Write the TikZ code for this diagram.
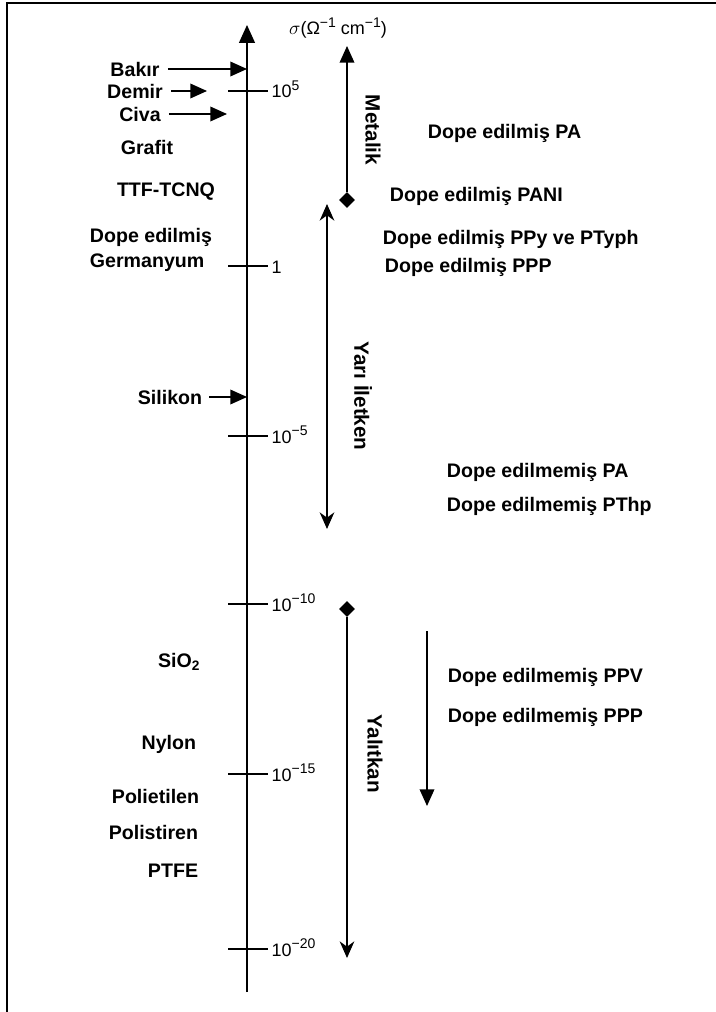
\documentclass[tikz,border=0pt]{standalone}
\usepackage{fontspec}
\setmainfont{Liberation Sans}
\usetikzlibrary{arrows.meta,shapes.geometric}

\newcommand{\expo}[1]{\raisebox{0.42em}{\fontsize{10.5}{11}\selectfont #1}}

\tikzset{
  etiq/.style={font=\fontsize{14.7}{18.75}\selectfont\bfseries, inner sep=2pt},
  bande/.style={font=\fontsize{15.5}{18}\selectfont\bfseries, rotate=-90, inner sep=1pt},
  valeur/.style={font=\fontsize{13.5}{15}\selectfont, inner sep=1pt},
  fleche/.style={line width=1pt, -{Triangle[length=12.5pt,width=11pt]}},
  pointe/.style={line width=1pt, -{Stealth[length=12.5pt,width=11pt,inset=4pt]}},
  double pointe/.style={line width=1pt, {Stealth[length=12.5pt,width=11pt,inset=4pt]}-{Stealth[length=12.5pt,width=11pt,inset=4pt]}},
  losange/.style={diamond, fill, inner sep=0pt, minimum size=12pt}
}

\begin{document}
\begin{tikzpicture}[x=0.75pt,y=-0.75pt]
\useasboundingbox (0,0) rectangle (716,1012);

 % cadre
  \draw[line width=1.5pt] (7,1012) -- (7,3) -- (716,3);

 % tracé de l'axe
  \coordinate (bas) at (247,992);
  \coordinate (haut) at (247,25);
  \draw[line width=1pt, -{Triangle[length=13.5pt,width=12pt]}] (bas) -- (haut);
  \node[valeur] (unite) at (338,28) {$\sigma$(Ω\expo{−1} cm\expo{−1})};

 % graduations
  \foreach \y/\lab in {91/10\expo{5}, 266/1, 436/10\expo{−5}, 604/10\expo{−10}, 774/10\expo{−15}, 949/10\expo{−20}}{
    \draw[line width=0.8pt] (228,\y) -- (268,\y);
    \node[valeur, anchor=base west] (g\y) at (270,\y+7) {\lab};
  }

 % matériaux à gauche
  \node[etiq] (bakir) at (135,69) {Bakır};
  \node[etiq] (demir) at (135,91) {Demir};
  \node[etiq] (civa) at (140,114) {Civa};
  \node[etiq] (grafit) at (147,147) {Grafit};
  \node[etiq] (ttf) at (166,192) {TTF-TCNQ};
  \node[etiq, align=left, anchor=west] (germ) at (87,250) {Dope edilmiş\\Germanyum};
  \node[etiq] (silikon) at (170,397) {Silikon};
  \node[etiq, anchor=east] (sio) at (203,662) {SiO\textsubscript{2}};
  \node[etiq, anchor=east] (nylon) at (199,744) {Nylon};
  \node[etiq, anchor=east] (polietilen) at (202,796) {Polietilen};
  \node[etiq, anchor=east] (polistiren) at (201,832) {Polistiren};
  \node[etiq, anchor=east] (ptfe) at (201,871) {PTFE};

  \coordinate (demirfin) at (207,91);
  \coordinate (civafin) at (227,114);
  \draw[fleche] ([xshift=4pt]bakir.east) -- (bakir -| haut);
  \draw[fleche] ([xshift=4pt]demir.east) -- (demirfin);
  \draw[fleche] ([xshift=4pt]civa.east) -- (civafin);
  \draw[fleche] ([xshift=3pt]silikon.east) -- (silikon -| haut);

 % domaines
  \node[losange] (m1) at (347,200) {};
  \coordinate (m2) at (347,46);
  \draw[fleche] (m1) -- (m2);
  \node[bande] (metalik) at (373,130) {Metalik};

  \coordinate (y1) at (327,204);
  \coordinate (y2) at (327,529);
  \draw[double pointe] (y1) -- (y2);
  \node[bande] (yari) at (363,396) {Yarı İletken};

  \node[losange] (i1) at (347,609) {};
  \coordinate (i2) at (347,958);
  \draw[pointe] (i1) -- (i2);
  \node[bande] (yalitkan) at (375,754) {Yalıtkan};

  \coordinate (d1) at (427,631);
  \coordinate (d2) at (427,806);
  \draw[fleche] (d1) -- (d2);

 % polimerler
  \node[etiq, anchor=west] (pa) at (425,133) {Dope edilmiş PA};
  \node[etiq, anchor=west] (pani) at (387,196) {Dope edilmiş PANI};
  \node[etiq, anchor=west] (ppy) at (380,239) {Dope edilmiş PPy ve PTyph};
  \node[etiq, anchor=west] (ppp) at (382,267) {Dope edilmiş PPP};
  \node[etiq, anchor=west] (upa) at (444,472) {Dope edilmemiş PA};
  \node[etiq, anchor=west] (upth) at (444,506) {Dope edilmemiş PThp};
  \node[etiq, anchor=west] (uppv) at (445,677) {Dope edilmemiş PPV};
  \node[etiq, anchor=west] (uppp) at (445,717) {Dope edilmemiş PPP};
\end{tikzpicture}
\end{document}
